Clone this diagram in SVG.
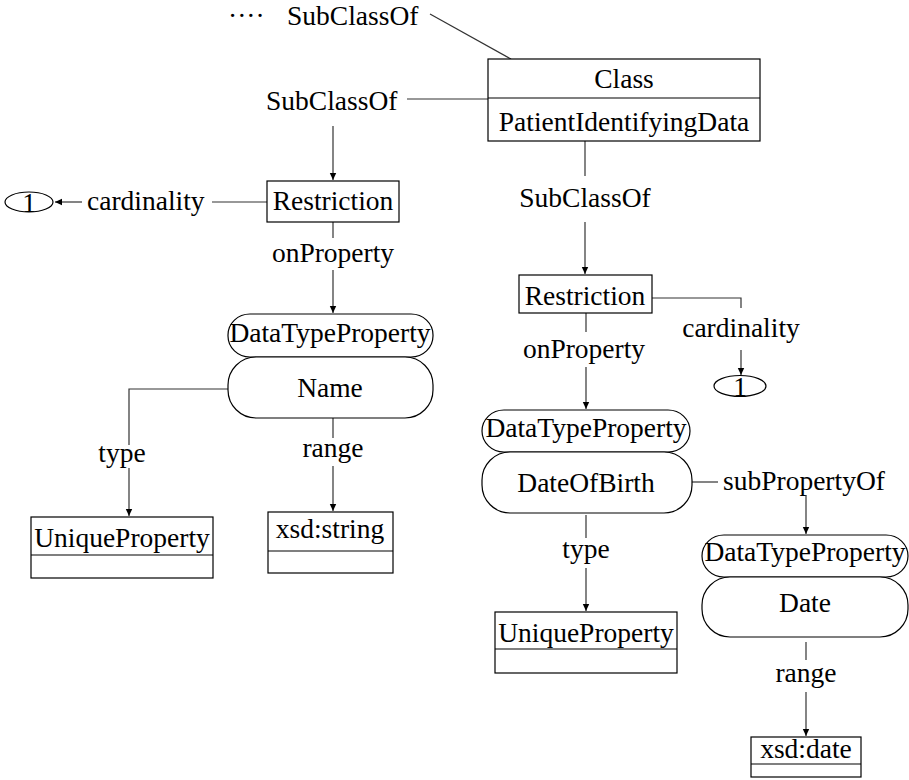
<svg xmlns="http://www.w3.org/2000/svg" width="909" height="780" viewBox="0 0 909 780" font-family="'Liberation Serif', 'Times New Roman', serif">
<style>
text{font-family:"Liberation Serif","Times New Roman",serif;font-size:27.5px;fill:#000}
.c{text-anchor:middle}
.box{fill:#fff;stroke:#000;stroke-width:1.2}
.ln{fill:none;stroke:#333;stroke-width:1.2}
</style>
<defs>
<marker id="ah" markerWidth="8" markerHeight="8" refX="7" refY="4" orient="auto" markerUnits="userSpaceOnUse">
<path d="M0,0.8 L7,4 L0,7.2 Z" fill="#000"/>
</marker>
</defs>
<rect width="909" height="780" fill="#fff"/>
<g id="connectors">
<line class="ln" x1="430" y1="14" x2="511" y2="59"/>
<line class="ln" x1="407" y1="99" x2="488" y2="99"/>
<line class="ln" x1="333" y1="126" x2="333" y2="180" marker-end="url(#ah)"/>
<line class="ln" x1="267" y1="202" x2="212" y2="202"/>
<line class="ln" x1="82" y1="202" x2="55" y2="202" marker-end="url(#ah)"/>
<line class="ln" x1="333" y1="222" x2="333" y2="238"/>
<line class="ln" x1="333" y1="270" x2="333" y2="313" marker-end="url(#ah)"/>
<polyline class="ln" points="228,389 129,389 129,445"/>
<line class="ln" x1="129" y1="468" x2="129" y2="516" marker-end="url(#ah)"/>
<line class="ln" x1="333" y1="418" x2="333" y2="438"/>
<line class="ln" x1="333" y1="466" x2="333" y2="511" marker-end="url(#ah)"/>
<line class="ln" x1="585" y1="141" x2="585" y2="176"/>
<line class="ln" x1="585" y1="222" x2="585" y2="274" marker-end="url(#ah)"/>
<polyline class="ln" points="652,298 741,298 741,308"/>
<line class="ln" x1="741" y1="350" x2="741" y2="375" marker-end="url(#ah)"/>
<line class="ln" x1="586" y1="313" x2="586" y2="332"/>
<line class="ln" x1="586" y1="367" x2="586" y2="409" marker-end="url(#ah)"/>
<line class="ln" x1="692" y1="482" x2="718" y2="482"/>
<line class="ln" x1="806" y1="495" x2="806" y2="534" marker-end="url(#ah)"/>
<line class="ln" x1="586" y1="515" x2="586" y2="538"/>
<line class="ln" x1="586" y1="568" x2="586" y2="611" marker-end="url(#ah)"/>
<line class="ln" x1="806" y1="642" x2="806" y2="660"/>
<line class="ln" x1="806" y1="692" x2="806" y2="736" marker-end="url(#ah)"/>
</g>
<g id="labels">
<text x="228" y="25">····</text>
<text x="287" y="25">SubClassOf</text>
<text x="266" y="110">SubClassOf</text>
<text x="87" y="210">cardinality</text>
<text class="c" x="333" y="262">onProperty</text>
<text class="c" x="122" y="462">type</text>
<text class="c" x="333" y="457">range</text>
<text class="c" x="585" y="207">SubClassOf</text>
<text class="c" x="741" y="337">cardinality</text>
<text class="c" x="584" y="358">onProperty</text>
<text x="723" y="490">subPropertyOf</text>
<text class="c" x="586" y="558">type</text>
<text class="c" x="806" y="682">range</text>
</g>
<g id="class-patient">
<rect class="box" x="488" y="59" width="272" height="82"/>
<line class="box" x1="488" y1="98" x2="760" y2="98"/>
<text class="c" x="624" y="88">Class</text>
<text class="c" x="624" y="131">PatientIdentifyingData</text>
</g>
<g id="one-left">
<ellipse class="box" cx="29" cy="202" rx="24" ry="10"/>
<text class="c" x="29" y="212">1</text>
</g>
<g id="restriction-left">
<rect class="box" x="267" y="181" width="132" height="41"/>
<text class="c" x="333" y="210">Restriction</text>
</g>
<g id="dtp-name">
<rect class="box" x="228" y="314" width="205" height="43" rx="22" ry="21"/>
<text class="c" x="330" y="342">DataTypeProperty</text>
</g>
<g id="name">
<rect class="box" x="228" y="357" width="205" height="61" rx="28" ry="28"/>
<text class="c" x="330" y="397">Name</text>
</g>
<g id="unique-left">
<rect class="box" x="31" y="517" width="182" height="61"/>
<line class="box" x1="31" y1="555" x2="213" y2="555"/>
<text class="c" x="122" y="547">UniqueProperty</text>
</g>
<g id="xsd-string">
<rect class="box" x="268" y="512" width="125" height="61"/>
<line class="box" x1="268" y1="551" x2="393" y2="551"/>
<text class="c" x="330" y="538">xsd:string</text>
</g>
<g id="restriction-right">
<rect class="box" x="519" y="275" width="133" height="38"/>
<text class="c" x="585" y="305">Restriction</text>
</g>
<g id="one-right">
<ellipse class="box" cx="740" cy="386" rx="26" ry="10.5"/>
<text class="c" x="740" y="396">1</text>
</g>
<g id="dtp-dob">
<rect class="box" x="482" y="410" width="208" height="42" rx="22" ry="21"/>
<text class="c" x="586" y="437">DataTypeProperty</text>
</g>
<g id="dob">
<rect class="box" x="482" y="452" width="210" height="61" rx="28" ry="28"/>
<text class="c" x="586" y="492">DateOfBirth</text>
</g>
<g id="unique-right">
<rect class="box" x="495" y="612" width="182" height="61"/>
<line class="box" x1="495" y1="649" x2="677" y2="649"/>
<text class="c" x="586" y="642">UniqueProperty</text>
</g>
<g id="dtp-date">
<rect class="box" x="702" y="535" width="206" height="42" rx="22" ry="21"/>
<text class="c" x="805" y="561">DataTypeProperty</text>
</g>
<g id="date">
<rect class="box" x="702" y="577" width="206" height="60" rx="28" ry="28"/>
<text class="c" x="805" y="612">Date</text>
</g>
<g id="xsd-date">
<rect class="box" x="751" y="737" width="110" height="40"/>
<line class="box" x1="751" y1="764" x2="861" y2="764"/>
<text class="c" x="806" y="758">xsd:date</text>
</g>
</svg>
